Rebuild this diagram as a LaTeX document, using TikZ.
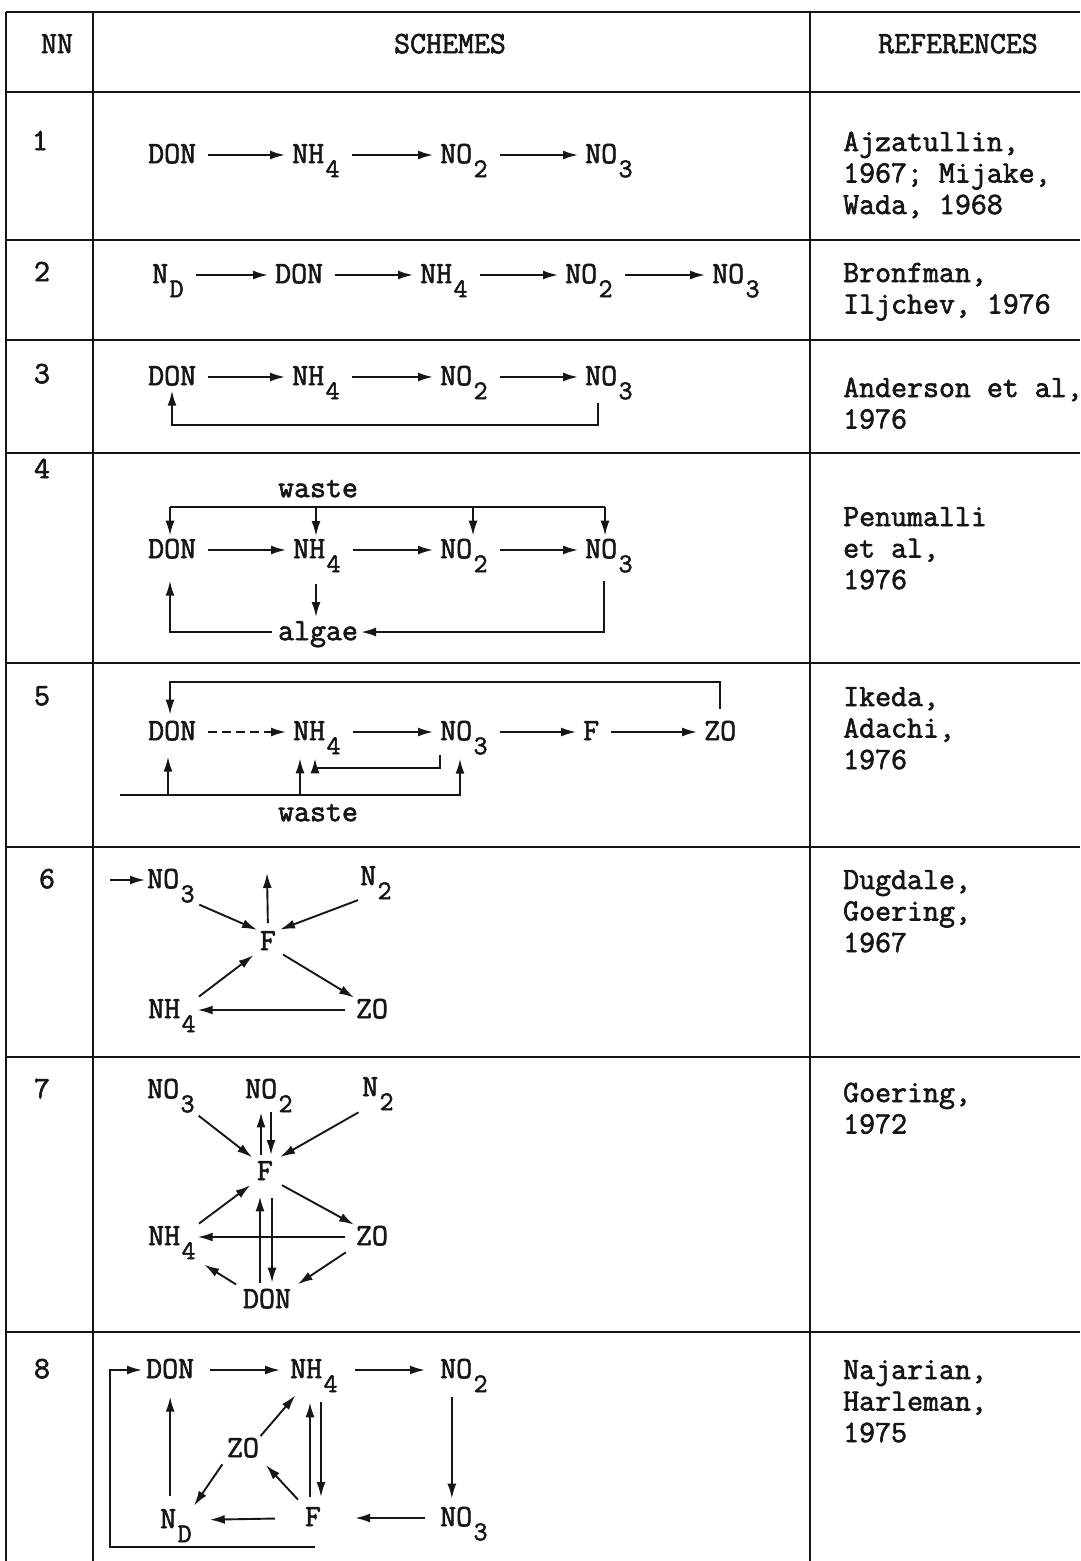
\documentclass[tikz,border=0pt]{standalone}
\usepackage{fontspec}
\newfontfamily\twf{lmmono12-regular.otf}[FakeBold=2]
\usetikzlibrary{arrows.meta}
\definecolor{ink}{RGB}{22,22,22}
\newcommand\lowr[1]{\kern1.5pt\raisebox{-14pt}{\fontsize{27}{27}\selectfont #1}}
\begin{document}
\begin{tikzpicture}[x=1pt,y=-1pt,
  tx/.style={font=\twf\fontsize{31}{31.5}\selectfont, inner sep=0pt, text=ink},
  dropped/.style={tx, execute at begin node={\lower6pt\hbox\bgroup}, execute at end node={\egroup}},
  lbl/.style={dropped, anchor=mid west},
  ctr/.style={dropped, anchor=mid},
  refs/.style={tx, anchor=base west, align=left},
  arr/.style={line width=1.9pt, draw=ink, -{Latex[length=15pt,width=9pt]}, shorten <=12pt, shorten >=7pt},
  ln/.style={line width=1.9pt, draw=ink},
  grid/.style={line width=1.7pt, draw=ink}]
\useasboundingbox (0,0) rectangle (1080,1561);
\fill[white] (0,0) rectangle (1080,1561);

% ---------- table grid ----------
\draw[grid] (6,12) -- (1080,12);
\draw[grid] (6,92) -- (1080,92);
\foreach \yy in {240,340,453,663,847,1057,1332} \draw[grid] (6,\yy) -- (1080,\yy);
\draw[grid] (6,12) -- (6,1561);
\draw[grid] (93,12) -- (93,1561);
\draw[grid] (810,12) -- (810,1561);

% ---------- header ----------
\node[ctr] (hnn) at (57,45) {NN};
\node[ctr] (hsch) at (450,45) {SCHEMES};
\node[ctr] (href) at (958,45) {REFERENCES};

% ---------- row numbers ----------
\node[ctr] (n1) at (40,142) {1};
\node[ctr] (n2) at (42,273) {2};
\node[ctr] (n3) at (42,375) {3};
\node[ctr] (n4) at (42,470) {4};
\node[ctr] (n5) at (42,697) {5};
\node[ctr] (n6) at (47,880) {6};
\node[ctr] (n7) at (42,1090) {7};
\node[ctr] (n8) at (42,1370) {8};

% ---------- references (anchor = baseline of last line) ----------
\node[refs] (ref1) at (843,214) {Ajzatullin,\\1967; Mijake,\\Wada, 1968};
\node[refs] (ref2) at (843,313.5) {Bronfman,\\Iljchev, 1976};
\node[refs] (ref3) at (843,428.5) {Anderson et al,\\1976};
\node[refs] (ref4) at (843,589) {Penumalli\\et al,\\1976};
\node[refs] (ref5) at (843,769) {Ikeda,\\Adachi,\\1976};
\node[refs] (ref6) at (843,952) {Dugdale,\\Goering,\\1967};
\node[refs] (ref7) at (843,1133.5) {Goering,\\1972};
\node[refs] (ref8) at (843,1442) {Najarian,\\Harleman,\\1975};

% ---------- row 1 ----------
\node[lbl] (r1don) at (148,155) {DON};
\node[lbl] (r1nh) at (292,155) {NH\lowr{4}};
\node[lbl] (r1no2) at (440,155) {NO\lowr{2}};
\node[lbl] (r1no3) at (585,155) {NO\lowr{3}};
\draw[arr] (r1don.mid east) -- (r1nh.mid west);
\draw[arr] (r1nh.mid east) -- (r1no2.mid west);
\draw[arr] (r1no2.mid east) -- (r1no3.mid west);

% ---------- row 2 ----------
\node[lbl] (r2nd) at (152,275) {N\lowr{D}};
\node[lbl] (r2don) at (275,275) {DON};
\node[lbl] (r2nh) at (420,275) {NH\lowr{4}};
\node[lbl] (r2no2) at (565,275) {NO\lowr{2}};
\node[lbl] (r2no3) at (712,275) {NO\lowr{3}};
\draw[arr] (r2nd.mid east) -- (r2don.mid west);
\draw[arr] (r2don.mid east) -- (r2nh.mid west);
\draw[arr] (r2nh.mid east) -- (r2no2.mid west);
\draw[arr] (r2no2.mid east) -- (r2no3.mid west);

% ---------- row 3 ----------
\node[lbl] (r3don) at (148,377) {DON};
\node[lbl] (r3nh) at (292,377) {NH\lowr{4}};
\node[lbl] (r3no2) at (440,377) {NO\lowr{2}};
\node[lbl] (r3no3) at (585,377) {NO\lowr{3}};
\draw[arr] (r3don.mid east) -- (r3nh.mid west);
\draw[arr] (r3nh.mid east) -- (r3no2.mid west);
\draw[arr] (r3no2.mid east) -- (r3no3.mid west);
\coordinate (l3a) at (598,425);
\coordinate (l3b) at (172,425);
\draw[arr, shorten <=3pt, shorten >=5pt] (l3a |- r3no3.south) -- (l3a) -- (l3b) -- (l3b |- r3don.south);

% ---------- row 4 ----------
\node[ctr] (r4waste) at (318,489) {waste};
\node[lbl] (r4don) at (148,550) {DON};
\node[lbl] (r4nh) at (293,550) {NH\lowr{4}};
\node[lbl] (r4no2) at (440,550) {NO\lowr{2}};
\node[lbl] (r4no3) at (585,550) {NO\lowr{3}};
\node[ctr] (r4alg) at (318,632) {algae};
\draw[arr] (r4don.mid east) -- (r4nh.mid west);
\draw[arr] (r4nh.mid east) -- (r4no2.mid west);
\draw[arr] (r4no2.mid east) -- (r4no3.mid west);
\coordinate (w4a) at (170,507);
\coordinate (w4b) at (316,507);
\coordinate (w4c) at (473,507);
\coordinate (w4d) at (605,507);
\draw[ln] (w4a) -- (w4d);
\draw[arr, shorten <=0pt, shorten >=3pt] (w4a) -- (w4a |- r4don.north);
\draw[arr, shorten <=0pt, shorten >=3pt] (w4b) -- (w4b |- r4nh.north);
\draw[arr, shorten <=0pt, shorten >=3pt] (w4c) -- (w4c |- r4no2.north);
\draw[arr, shorten <=0pt, shorten >=3pt] (w4d) -- (w4d |- r4no3.north);
\draw[arr, shorten <=12pt, shorten >=4pt] (w4b |- r4nh.south) -- (w4b |- r4alg.north);
\coordinate (a4c) at (604,632);
\coordinate (a4a) at (170,632);
\draw[arr, shorten <=8pt, shorten >=3pt] (a4c |- r4no3.south) -- (a4c) -- (r4alg.mid east);
\draw[arr, shorten <=6pt, shorten >=22pt] (r4alg.mid west) -- (a4a) -- (a4a |- r4don.south);

% ---------- row 5 ----------
\node[lbl] (r5don) at (148,732) {DON};
\node[lbl] (r5nh) at (293,732) {NH\lowr{4}};
\node[lbl] (r5no3) at (440,732) {NO\lowr{3}};
\node[lbl] (r5f) at (583,732) {F};
\node[lbl] (r5zo) at (704,732) {ZO};
\node[ctr] (r5waste) at (318,813) {waste};
\draw[arr, dash pattern=on 9pt off 5pt] (r5don.mid east) -- (r5nh.mid west);
\draw[arr] (r5nh.mid east) -- (r5no3.mid west);
\draw[arr] (r5no3.mid east) -- (r5f.mid west);
\draw[arr] (r5f.mid east) -- (r5zo.mid west);
\coordinate (t5a) at (170,682);
\coordinate (t5b) at (720,682);
\draw[arr, shorten <=12pt, shorten >=6pt] (t5b |- r5zo.north) -- (t5b) -- (t5a) -- (t5a |- r5don.north);
\coordinate (l5a) at (440,768);
\coordinate (l5b) at (315,768);
\draw[arr, shorten <=0pt, shorten >=4pt] (l5a |- r5no3.south) -- (l5a) -- (l5b) -- (l5b |- r5nh.south);
\coordinate (w5a) at (120,795);
\coordinate (w5b) at (168,795);
\coordinate (w5c) at (300,795);
\coordinate (w5d) at (460,795);
\draw[arr, shorten <=0pt, shorten >=4pt] (w5a) -- (w5d) -- (w5d |- r5no3.south);
\draw[arr, shorten <=0pt, shorten >=16pt] (w5b) -- (w5b |- r5don.south);
\draw[arr, shorten <=0pt, shorten >=4pt] (w5c) -- (w5c |- r5nh.south);

% ---------- row 6 ----------
\node[lbl] (r6no3) at (147,880) {NO\lowr{3}};
\node[ctr] (r6f) at (268,942) {F};
\node[lbl] (r6n2) at (360,877) {N\lowr{2}};
\node[lbl] (r6nh) at (148,1010) {NH\lowr{4}};
\node[ctr] (r6zo) at (372,1010) {ZO};
\coordinate (i6) at (110,880);
\coordinate (u6) at (267,873);
\draw[arr, shorten <=0pt, shorten >=2pt] (i6) -- (r6no3.mid west);
\draw[arr, shorten <=8pt, shorten >=0pt] (r6f.north) -- (u6);
\draw[arr, shorten <=5pt, shorten >=3pt] (r6no3.south east) -- (r6f.north west);
\draw[arr, shorten <=2pt, shorten >=4pt] (r6n2.south west) -- (r6f.north east);
\draw[arr, shorten <=8pt, shorten >=2pt] (r6f.south east) -- (r6zo.north west);
\draw[arr, shorten <=4pt, shorten >=8pt] (r6nh.north east) -- (r6f.south west);
\draw[arr, shorten <=11pt, shorten >=2pt] (r6zo.mid west) -- (r6nh.mid east);

% ---------- row 7 ----------
\node[lbl] (r7no3) at (147,1090) {NO\lowr{3}};
\node[lbl] (r7no2) at (245,1090) {NO\lowr{2}};
\node[lbl] (r7n2) at (362,1088) {N\lowr{2}};
\node[ctr] (r7f) at (265,1172) {F};
\node[lbl] (r7nh) at (148,1237) {NH\lowr{4}};
\node[ctr] (r7zo) at (372,1237) {ZO};
\node[ctr] (r7don) at (267,1300) {DON};
\draw[arr, shorten <=5pt, shorten >=6pt] (r7no3.south east) -- (r7f.north west);
\draw[arr, shorten <=6pt, shorten >=0pt] ([xshift=-4pt]r7f.north) -- ([xshift=-4pt]r7f.north |- r7no2.south);
\draw[arr, shorten <=0pt, shorten >=6pt] ([xshift=6pt]r7f.north |- r7no2.south) -- ([xshift=6pt]r7f.north);
\draw[arr, shorten <=4pt, shorten >=8pt] (r7n2.south west) -- (r7f.north east);
\draw[arr, shorten <=10pt, shorten >=2pt] (r7f.south east) -- (r7zo.north west);
\draw[arr, shorten <=4pt, shorten >=8pt] (r7nh.north east) -- (r7f.south west);
\draw[arr, shorten <=11pt, shorten >=2pt] (r7zo.mid west) -- (r7nh.mid east);
\draw[arr, shorten <=12pt, shorten >=8pt] (r7zo.south west) -- (r7don.north east);
\draw[arr, shorten <=8pt, shorten >=10pt] (r7don.north west) -- (r7nh.south east);
\draw[arr, shorten <=6pt, shorten >=16pt] ([xshift=-7pt]r7don.north) -- ([xshift=-7pt]r7don.north |- r7f.south);
\draw[arr, shorten <=18pt, shorten >=6pt] ([xshift=5pt]r7don.north |- r7f.south) -- ([xshift=5pt]r7don.north);

% ---------- row 8 ----------
\node[lbl] (r8don) at (146,1370) {DON};
\node[lbl] (r8nh) at (290,1370) {NH\lowr{4}};
\node[lbl] (r8no2) at (440,1370) {NO\lowr{2}};
\node[ctr] (r8zo) at (243,1449) {ZO};
\node[lbl] (r8nd) at (160,1520) {N\lowr{D}};
\node[ctr] (r8f) at (313,1518) {F};
\node[lbl] (r8no3) at (440,1518) {NO\lowr{3}};
\draw[arr, shorten <=16pt, shorten >=10pt] (r8don.mid east) -- (r8nh.mid west);
\draw[arr, shorten <=17pt, shorten >=15pt] (r8nh.mid east) -- (r8no2.mid west);
\draw[arr, shorten <=5pt, shorten >=8pt] ([xshift=-12pt]r8no2.south) -- ([xshift=-12pt]r8no2.south |- r8no3.north);
\draw[arr, shorten <=15pt, shorten >=34pt] (r8no3.mid west) -- (r8f.mid east);
\draw[arr, shorten <=30pt, shorten >=18pt] (r8f.mid west) -- (r8nd.mid east);
\draw[arr, shorten <=13pt, shorten >=18pt] (r8don.south |- r8nd.north) -- (r8don.south);
\draw[arr, shorten <=8pt, shorten >=4pt] (r8zo.south west) -- (r8nd.north east);
\draw[arr, shorten <=10pt, shorten >=10pt] (r8f.north west) -- (r8zo.south east);
\draw[arr, shorten <=2pt, shorten >=4pt] (r8zo.north east) -- ([xshift=8pt]r8nh.south west);
\draw[arr, shorten <=10pt, shorten >=10pt] ([xshift=-3pt]r8f.north) -- ([xshift=-3pt]r8f.north |- r8nh.south);
\draw[arr, shorten <=10pt, shorten >=10pt] ([xshift=8pt]r8f.north |- r8nh.south) -- ([xshift=8pt]r8f.north);
\coordinate (lp1) at (315,1547);
\coordinate (lp2) at (110,1547);
\draw[arr, shorten <=0pt, shorten >=4pt] (lp1) -- (lp2) |- (r8don.mid west);
\end{tikzpicture}
\end{document}
